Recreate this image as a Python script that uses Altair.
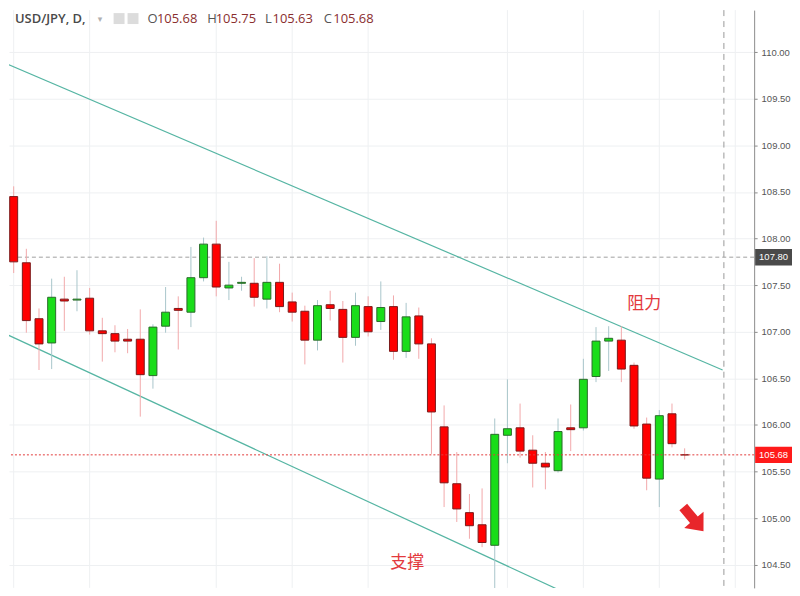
import altair as alt
import pandas as pd

# ---------------- data ----------------
idx = list(range(55))
opens = [109.70, 108.45, 107.74, 107.14, 106.88, 107.35, 107.34, 107.36, 107.01, 106.98,
         106.92, 106.92, 106.53, 107.06, 107.25, 107.21, 107.58, 107.94, 107.47, 107.52,
         107.52, 107.35, 107.53, 107.32, 107.22, 106.91, 107.29, 107.24, 106.94, 107.27,
         107.11, 107.27, 106.79, 107.17, 106.87, 105.98, 105.37, 105.06, 104.93, 104.71,
         105.89, 105.97, 105.73, 105.59, 105.51, 105.97, 105.97, 106.52, 106.90, 106.91,
         106.64, 106.01, 105.42, 106.12, 105.68]
highs = [109.76, 108.56, 107.89, 107.25, 107.57, 107.59, 107.66, 107.47, 107.15, 107.07,
         107.03, 107.24, 107.08, 107.48, 107.38, 107.91, 108.01, 108.19, 107.75, 107.59,
         107.79, 107.81, 107.73, 107.42, 107.28, 107.34, 107.44, 107.33, 107.42, 107.38,
         107.54, 107.39, 107.31, 107.26, 106.93, 106.21, 105.71, 105.26, 105.32, 106.07,
         106.49, 106.23, 105.89, 105.71, 106.07, 106.22, 106.71, 107.05, 107.06, 107.06,
         106.67, 106.08, 106.16, 106.23, 105.75]
lows = [108.26, 107.63, 106.99, 106.59, 106.60, 107.01, 107.22, 106.97, 106.68, 106.78,
        106.77, 106.09, 106.39, 106.99, 106.81, 107.05, 107.54, 107.38, 107.34, 107.44,
        107.27, 107.25, 107.21, 107.11, 106.65, 106.80, 107.12, 106.67, 106.85, 106.95,
        107.02, 106.70, 106.72, 106.71, 105.69, 105.12, 104.96, 104.78, 104.69, 104.20,
        105.59, 105.65, 105.33, 105.31, 105.49, 105.72, 105.94, 106.46, 106.58, 106.46,
        105.96, 105.30, 105.12, 105.76, 105.63]
closes = [108.44, 107.75, 107.12, 106.87, 107.37, 107.33, 107.35, 107.01, 106.98, 106.90,
          106.90, 106.54, 107.05, 107.21, 107.23, 107.58, 107.94, 107.48, 107.50, 107.53,
          107.37, 107.53, 107.27, 107.21, 106.91, 107.28, 107.25, 106.94, 107.28, 107.00,
          107.26, 106.79, 107.16, 106.87, 106.14, 105.38, 105.10, 104.92, 104.74, 105.90,
          105.96, 105.72, 105.59, 105.55, 105.93, 105.95, 106.49, 106.90, 106.93, 106.60,
          105.99, 105.43, 106.10, 105.80, 105.68]

grid_idx = [1, 7, 17, 23, 29, 40, 46, 52, 58]
y_ticks = [104.5, 105.0, 105.5, 106.0, 106.5, 107.0, 107.5, 108.0, 108.5, 109.0, 109.5, 110.0, 110.5]

upper_i = [0, 57]
upper_p = [109.90, 106.59]
lower_i = [0, 46]
lower_p = [107.00, 104.11]

tag_prices = [107.80, 105.68]
tag_labels = ["107.80", "105.68"]
tag_colors = ["#4a4a4a", "#ff1a1a"]

header_name = "USD/JPY, D,"
ohlc_keys = ["O", "H", "L", "C"]
ohlc_vals = ["105.68", "105.75", "105.63", "105.68"]

# ---------------- frames ----------------
df = pd.DataFrame({"i": idx, "o": opens, "h": highs, "l": lows, "c": closes})
df["dir"] = ["up" if c > o else "down" for o, c in zip(opens, closes)]

W, H = 748, 580
xscale = alt.Scale(domain=[0.63, 59.49], nice=False, zero=False, padding=0)
yscale = alt.Scale(domain=[104.253, 110.45], nice=False, zero=False, padding=0)
yaxis = alt.Axis(orient="right", values=y_ticks, format=".2f", title=None,
                 labelColor="#555555", labelFont="Liberation Sans", labelFontSize=9.5,
                 tickColor="#8c8c8c", tickSize=3, labelPadding=4,
                 domainColor="#8c8c8c", gridColor="#eef0f2", grid=True)

def X(field):
    return alt.X(field, type="quantitative", scale=xscale, axis=None)

def Y(field):
    return alt.Y(field, type="quantitative", scale=yscale, axis=yaxis)

one = pd.DataFrame({"a": [0]})

vgrid = alt.Chart(pd.DataFrame({"i": grid_idx})).mark_rule(
    color="#eef0f2", strokeWidth=1, clip=True).encode(x=X("i"))

wicks = alt.Chart(df).mark_rule(strokeWidth=1, clip=True).encode(
    x=X("i"), y=Y("l"), y2="h",
    color=alt.Color("dir:N", scale=alt.Scale(domain=["up", "down"],
                                             range=["#a9c6cb", "#f2a9ab"]), legend=None))

bodies = alt.Chart(df).mark_bar(size=8, strokeWidth=1, clip=True).encode(
    x=X("i"), y=Y("o"), y2="c",
    fill=alt.Fill("dir:N", scale=alt.Scale(domain=["up", "down"],
                                           range=["#19dd19", "#ff0000"]), legend=None),
    stroke=alt.Stroke("dir:N", scale=alt.Scale(domain=["up", "down"],
                                               range=["#2a6a2a", "#7a1a1a"]), legend=None))

hline_gray = alt.Chart(pd.DataFrame({"p": [tag_prices[0]]})).mark_rule(
    color="#a0a0a0", strokeDash=[4, 3], strokeWidth=1).encode(y=Y("p"))
hline_red = alt.Chart(pd.DataFrame({"p": [tag_prices[1]]})).mark_rule(
    color="#e23a3a", strokeDash=[2, 2], strokeWidth=1).encode(y=Y("p"))
vline = alt.Chart(pd.DataFrame({"i": [57.1]})).mark_rule(
    color="#9a9a9a", strokeDash=[6, 5], strokeWidth=1).encode(x=X("i"))

upper = alt.Chart(pd.DataFrame({"i": upper_i, "p": upper_p})).mark_line(
    color="#55b5a3", strokeWidth=1.2, clip=True).encode(x=X("i"), y=Y("p"))
lower = alt.Chart(pd.DataFrame({"i": lower_i, "p": lower_p})).mark_line(
    color="#55b5a3", strokeWidth=1.2, clip=True).encode(x=X("i"), y=Y("p"))

ann = pd.DataFrame({"i": [50.8, 32.08], "p": [107.30, 104.52], "t": ["阻力", "支撑"]})
ann_text = alt.Chart(ann).mark_text(font="Noto Sans CJK SC", fontSize=17, color="#e3393d",
                                    align="center", baseline="middle").encode(
    x=X("i"), y=Y("p"), text="t:N")

arrow_path = "M-0.32,1 L0.32,1 L0.32,-0.05 L0.8,-0.05 L0,-1 L-0.8,-0.05 L-0.32,-0.05 Z"
arrow = alt.Chart(pd.DataFrame({"i": [54.69], "p": [104.99]})).mark_point(
    shape=arrow_path, filled=True, color="#e8262b", opacity=1, size=1000, angle=140,
    strokeWidth=0).encode(x=X("i"), y=Y("p"))

tags = pd.DataFrame({"p": tag_prices, "label": tag_labels, "bg": tag_colors})
tags["top"] = tags["p"] + 0.088
tags["bot"] = tags["p"] - 0.088
tag_box = alt.Chart(tags).mark_rect(clip=False).encode(
    x=alt.value(749), x2=alt.value(786), y=Y("top"), y2="bot",
    color=alt.Color("bg:N", scale=None))
tag_txt = alt.Chart(tags).mark_text(clip=False, color="white", font="Liberation Sans",
                                    fontSize=9.5, align="center", baseline="middle").encode(
    x=alt.value(767.5), y=Y("p"), text="label:N")

def txt(s, x, y, color, size=13, weight="normal", font="Open Sans"):
    return alt.Chart(one).mark_text(text=s, align="left", baseline="middle", font=font,
                                    fontSize=size, fontWeight=weight, color=color).encode(
        x=alt.value(x), y=alt.value(y))

header = [txt(header_name, 6, 9, "#4a4a4a", 13, 600),
          txt("▾", 89, 9, "#b0b0b0", 9, "normal", "DejaVu Sans")]
icons = alt.Chart(one).mark_rect(color="#dcdcdc").encode(
    x=alt.value(105), x2=alt.value(116), y=alt.value(3), y2=alt.value(14))
icons2 = alt.Chart(one).mark_rect(color="#dcdcdc").encode(
    x=alt.value(119), x2=alt.value(130), y=alt.value(3), y2=alt.value(14))
key_x = [139, 199, 257, 316]
val_x = [148.5, 207.5, 264.5, 325.5]
for k, v, kx, vx in zip(ohlc_keys, ohlc_vals, key_x, val_x):
    header.append(txt(k, kx, 9, "#555555", 13))
    header.append(txt(v, vx, 9, "#8a2e2e", 13))

chart = alt.layer(
    vgrid, hline_gray, vline, upper, lower, wicks, bodies, hline_red,
    ann_text, arrow, tag_box, tag_txt, icons, icons2, *header
).properties(width=W, height=H, padding=0, background="white").configure_view(stroke=None)

chart.save("out.html", embed_options={"renderer": "svg", "actions": False})
